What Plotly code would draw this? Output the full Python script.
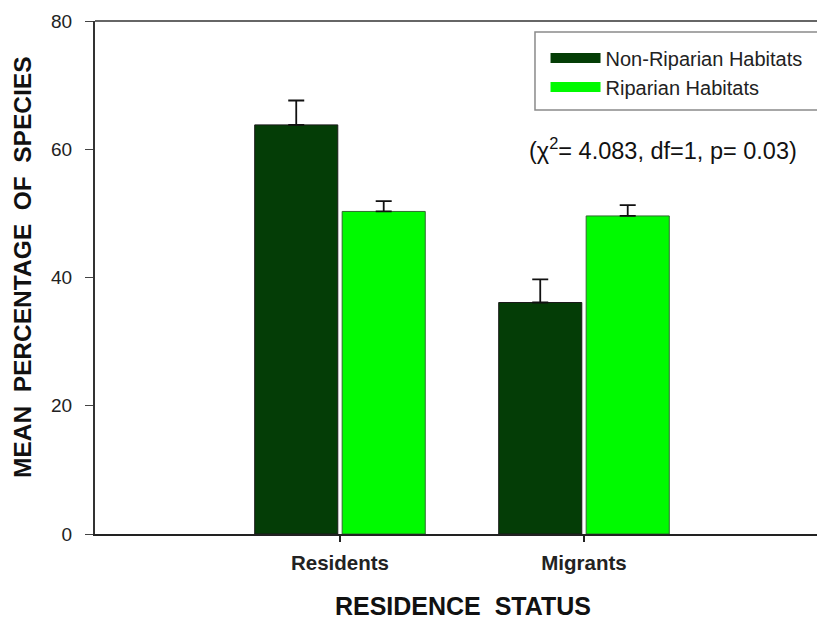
import plotly.graph_objects as go

categories = ["Residents", "Migrants"]
non_riparian = [63.8, 36.1]
non_riparian_err = [3.8, 3.6]
riparian = [50.3, 49.6]
riparian_err = [1.6, 1.7]
series_names = ["Non-Riparian Habitats", "Riparian Habitats"]
y_ticks = [0, 20, 40, 60, 80]

dark = "#043d06"
light = "#00fa00"
FONT = "Arial, Liberation Sans, sans-serif"
PAD = "\u200b\u00a0\u00a0\u00a0"

fig = go.Figure()
fig.add_trace(go.Bar(
    x=categories, y=non_riparian, name=series_names[0], showlegend=False,
    marker=dict(color=dark, line=dict(color="#1a1a1a", width=1)),
    error_y=dict(type="data", symmetric=False, array=non_riparian_err,
                 arrayminus=[0, 0], color="#111", thickness=1.8, width=8),
))
fig.add_trace(go.Bar(
    x=categories, y=riparian, name=series_names[1], showlegend=False,
    marker=dict(color=light, line=dict(color="#2f6a2f", width=1)),
    error_y=dict(type="data", symmetric=False, array=riparian_err,
                 arrayminus=[0, 0], color="#111", thickness=1.8, width=8),
))
# legend swatches
fig.add_trace(go.Scatter(x=[None], y=[None], mode="lines", name=series_names[0],
                         line=dict(color=dark, width=14)))
fig.add_trace(go.Scatter(x=[None], y=[None], mode="lines", name=series_names[1],
                         line=dict(color=light, width=14)))

fig.add_annotation(
    text="(χ<sup>2</sup>= 4.083, df=1, p= 0.03)",
    xref="paper", yref="paper", x=0.787, y=0.750, xanchor="center", yanchor="middle",
    showarrow=False, font=dict(family=FONT, size=23.5, color="#111"),
)
# top frame line
fig.add_shape(type="line", xref="paper", yref="paper", x0=0, x1=1, y0=1, y1=1,
              line=dict(color="#666", width=2))
# legend frame
fig.add_shape(type="rect", xref="paper", yref="paper", x0=0.6094, x1=1.02,
              y0=0.8265, y1=0.9786, line=dict(color="#8a8a8a", width=1.5),
              fillcolor="rgba(0,0,0,0)")

fig.update_layout(
    width=817, height=620,
    margin=dict(l=95, r=0, t=21, b=86),
    paper_bgcolor="white", plot_bgcolor="white",
    barmode="group", bargap=0.283, bargroupgap=0.05,
    font=dict(family=FONT, color="#222"),
    showlegend=True,
    legend=dict(x=0.624, y=0.966, xanchor="left", yanchor="top",
                borderwidth=0, bgcolor="rgba(0,0,0,0)",
                font=dict(size=20, color="#222"), itemwidth=50,
                tracegroupgap=0),
    xaxis=dict(
        range=[-1.004, 1.955], showline=True, linecolor="#222", linewidth=2,
        ticks="outside", ticklen=6, tickcolor="#222", tickwidth=1.5,
        tickfont=dict(size=20.5, color="#222", family=FONT, weight="bold"),
        ticklabelstandoff=3, automargin=False,
        title=dict(text="\u200b\u00a0\u00a0RESIDENCE\u00a0\u00a0STATUS", standoff=26,
                   font=dict(size=25, color="#111", family=FONT, weight="bold")),
        showgrid=False, zeroline=False,
    ),
    yaxis=dict(
        range=[0, 80], tickvals=y_ticks, showline=True, linecolor="#333", linewidth=2,
        ticks="outside", ticklen=8, tickcolor="#444", tickwidth=1,
        tickfont=dict(size=19, color="#222"), ticklabelstandoff=9, automargin=False,
        title=dict(text=PAD + "MEAN\u00a0\u00a0PERCENTAGE\u00a0\u00a0OF\u00a0\u00a0SPECIES", standoff=12,
                   font=dict(size=24.5, color="#111", family=FONT, weight="bold")),
        showgrid=False, zeroline=False,
    ),
)

fig.write_html(
    "out.html",
    config={"displayModeBar": False},
    post_script="document.body.style.margin='0';document.body.style.overflow='hidden';",
)
